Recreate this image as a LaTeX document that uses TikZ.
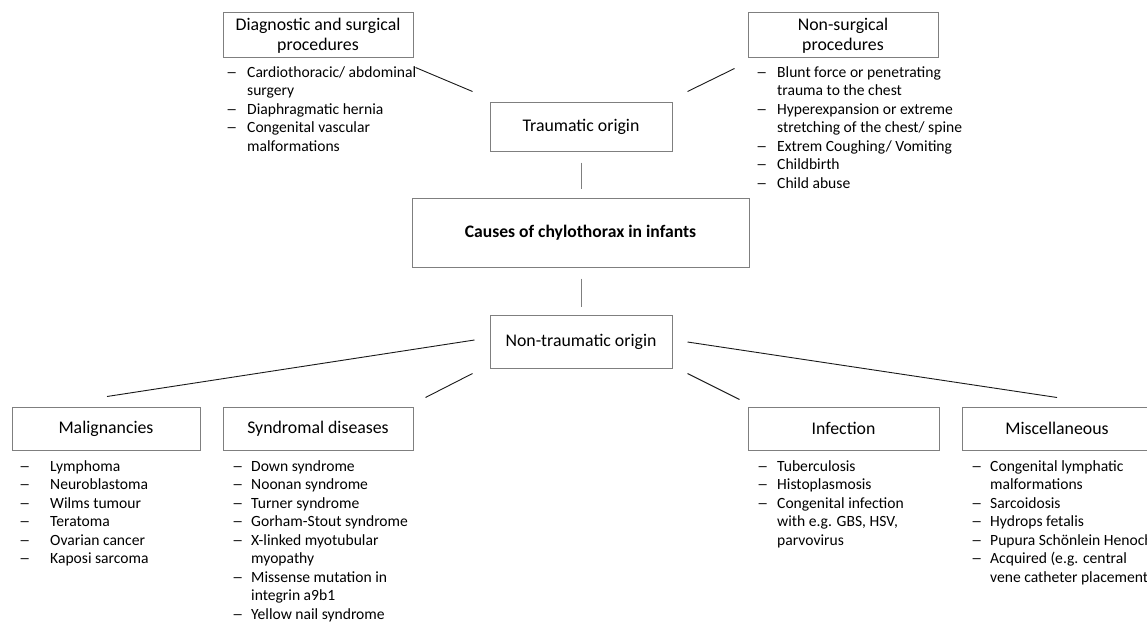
\documentclass[tikz,border=0pt]{standalone}
\usepackage{fontspec}
\setmainfont{Carlito}
\usetikzlibrary{calc}
\definecolor{boxline}{RGB}{127,127,127}
\definecolor{linkline}{RGB}{25,25,25}
\newcommand{\dashlist}[2]{\begin{tabular}{@{}p{#1}@{}l@{}}#2\end{tabular}}
\newcommand{\dsh}{\scalebox{1.45}[1]{\textendash}}

\begin{document}
\begin{tikzpicture}[x=1pt, y=-1pt,
    catbox/.style={draw=boxline, line width=1pt, align=center, inner sep=0pt,
                   minimum width=190pt, minimum height=45pt,
                   font=\fontsize{17.8}{20}\selectfont},
    itemlist/.style={anchor=north west, inner sep=0pt, align=left,
                     font=\fontsize{15.6}{18.5}\selectfont},
    link/.style={draw=linkline, line width=0.9pt},
    stem/.style={draw=boxline, line width=1pt}]
  \path[fill=white, use as bounding box] (0,0) rectangle (1147,623);

  % centre
  \node[catbox, minimum width=337pt, minimum height=69pt,
        font=\fontsize{17.6}{20}\selectfont\bfseries] (causes) at (580.5,232.5)
    {Causes of chylothorax in infants};
  \node[catbox, minimum width=182pt, minimum height=48pt] (traum) at (581,127)
    {Traumatic origin};
  \node[catbox, minimum width=182pt, minimum height=53pt] (nontraum) at (581,341.5)
    {Non-traumatic origin};

  % traumatic branch
  \node[catbox] (diag) at (318,35.5) {Diagnostic and surgical\\procedures};
  \node[catbox] (nonsurg) at (843,35.5) {Non-surgical\\procedures};
  \node[itemlist] (diaglist) at (226,64) {\dashlist{21pt}{
      \dsh & Cardiothoracic/ abdominal\\
           & surgery\\
      \dsh & Diaphragmatic hernia\\
      \dsh & Congenital vascular\\
           & malformations\\}};
  \node[itemlist] (nonsurglist) at (756,64) {\dashlist{21pt}{
      \dsh & Blunt force or penetrating\\
           & trauma to the chest\\
      \dsh & Hyperexpansion or extreme\\
           & stretching of the chest/ spine\\
      \dsh & Extrem Coughing/ Vomiting\\
      \dsh & Childbirth\\
      \dsh & Child abuse\\}};

  % non-traumatic branch
  \node[catbox, minimum width=188pt, minimum height=43pt] (malig) at (106,428.5) {Malignancies};
  \node[catbox, minimum height=43pt] (synd) at (318,428.5) {Syndromal diseases};
  \node[catbox, minimum width=191pt, minimum height=43pt] (infect) at (843.5,428.5) {Infection};
  \node[catbox, minimum height=43pt] (misc) at (1057,428.5) {Miscellaneous};
  \node[itemlist] (maliglist) at (19,458) {\dashlist{31pt}{
      \dsh & Lymphoma\\
      \dsh & Neuroblastoma\\
      \dsh & Wilms tumour\\
      \dsh & Teratoma\\
      \dsh & Ovarian cancer\\
      \dsh & Kaposi sarcoma\\}};
  \node[itemlist] (syndlist) at (232,458) {\dashlist{19pt}{
      \dsh & Down syndrome\\
      \dsh & Noonan syndrome\\
      \dsh & Turner syndrome\\
      \dsh & Gorham-Stout syndrome\\
      \dsh & X-linked myotubular\\
           & myopathy\\
      \dsh & Missense mutation in\\
           & integrin a9b1\\
      \dsh & Yellow nail syndrome\\}};
  \node[itemlist] (infectlist) at (757,458) {\dashlist{20pt}{
      \dsh & Tuberculosis\\
      \dsh & Histoplasmosis\\
      \dsh & Congenital infection\\
           & with e.g. GBS, HSV,\\
           & parvovirus\\}};
  \node[itemlist] (misclist) at (971,458) {\dashlist{19pt}{
      \dsh & Congenital lymphatic\\
           & malformations\\
      \dsh & Sarcoidosis\\
      \dsh & Hydrops fetalis\\
      \dsh & Pupura Schönlein Henoch\\
      \dsh & Acquired (e.g. central\\
           & vene catheter placement)\\}};

  % connectors
  \draw[stem] ([shift={(0,11)}]traum.south) -- ([shift={(0,-9)}]traum.south |- causes.north);
  \draw[stem] ([shift={(0,11)}]causes.south -| nontraum.north) -- ([shift={(0,-8)}]nontraum.north);
  \draw[link] ([shift={(2,9)}]diag.south east) -- ([shift={(-17,-11)}]traum.north west);
  \draw[link] ([shift={(-13,10)}]nonsurg.south west) -- ([shift={(15,-11)}]traum.north east);
  \draw[link] ([shift={(-15,-1.5)}]nontraum.west) -- ([shift={(1,-10)}]malig.north);
  \draw[link] ([shift={(-17,5)}]nontraum.south west) -- ([shift={(12,-9)}]synd.north east);
  \draw[link] ([shift={(15,5)}]nontraum.south east) -- ([shift={(-8,-7)}]infect.north west);
  \draw[link] ([shift={(15,0.5)}]nontraum.east) -- ([shift={(0,-9)}]misc.north);
\end{tikzpicture}
\end{document}
